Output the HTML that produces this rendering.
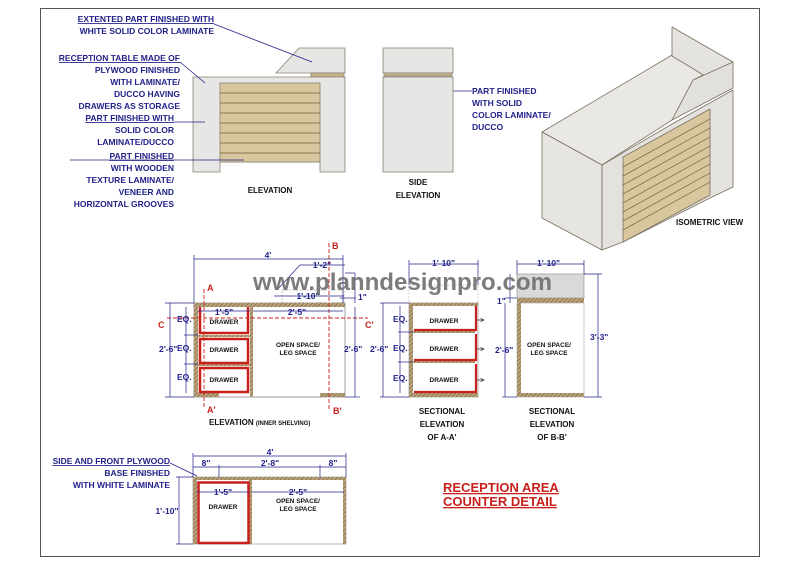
<!DOCTYPE html>
<html><head><meta charset="utf-8"><style>
html,body{margin:0;padding:0;background:#fff;}
svg{display:block;}
text{font-family:"Liberation Sans",Arial,sans-serif;font-weight:bold;}
.b{fill:#22228a;font-size:8.5px;}
.k{fill:#111;font-size:8px;}
.s{fill:#111;font-size:6.5px;}
.d{fill:#22228a;font-size:8.5px;}
.r{fill:#c8201c;font-size:9px;}
</style></head><body>
<svg width="800" height="566" viewBox="0 0 800 566" xmlns="http://www.w3.org/2000/svg">
<defs>
<pattern id="h" width="3" height="3" patternUnits="userSpaceOnUse" patternTransform="rotate(45)">
<rect width="3" height="3" fill="#b9a27a"/><line x1="0" y1="0" x2="0" y2="3" stroke="#6b5533" stroke-width="1"/></pattern>
<marker id="ar" markerWidth="6" markerHeight="6" refX="5" refY="3" orient="auto"><path d="M0,0.5 L5,3 L0,5.5" fill="none" stroke="#222" stroke-width="0.8"/></marker>
</defs>
<rect x="40.5" y="8.5" width="719" height="548" fill="none" stroke="#555" stroke-width="1"/>

<!-- ELEVATION top -->
<g stroke="#8a8070" stroke-width="0.8">
<polygon points="276,73 299,48 345,48 345,73" fill="#e6e6e4"/>
<rect x="311" y="73" width="33" height="4" fill="#c9b58a"/>
<polygon points="193,77 345,77 345,172 320,172 320,162 220,162 220,172 193,172" fill="#e6e6e4"/>
<rect x="220" y="83" width="100" height="79" fill="#d8c79e"/>
</g>
<g stroke="#6b5a3a" stroke-width="0.8">
<line x1="220" y1="93" x2="320" y2="93"/><line x1="220" y1="103" x2="320" y2="103"/><line x1="220" y1="113" x2="320" y2="113"/><line x1="220" y1="123" x2="320" y2="123"/><line x1="220" y1="133" x2="320" y2="133"/><line x1="220" y1="143" x2="320" y2="143"/><line x1="220" y1="153" x2="320" y2="153"/>
</g>
<text class="k" x="270" y="193" text-anchor="middle">ELEVATION</text>

<!-- labels -->
<g class="b" text-anchor="end">
<text x="214" y="22" text-decoration="underline">EXTENTED PART FINISHED WITH</text>
<text x="214" y="34">WHITE SOLID COLOR LAMINATE</text>
<text x="180" y="61" text-decoration="underline">RECEPTION TABLE MADE OF</text>
<text x="180" y="73">PLYWOOD FINISHED</text>
<text x="180" y="85">WITH LAMINATE/</text>
<text x="180" y="97">DUCCO HAVING</text>
<text x="180" y="109">DRAWERS AS STORAGE</text>
<text x="174" y="121" text-decoration="underline">PART FINISHED WITH</text>
<text x="174" y="133">SOLID COLOR</text>
<text x="174" y="145">LAMINATE/DUCCO</text>
<text x="174" y="159" text-decoration="underline">PART FINISHED</text>
<text x="174" y="171">WITH WOODEN</text>
<text x="174" y="183">TEXTURE LAMINATE/</text>
<text x="174" y="195">VENEER AND</text>
<text x="174" y="207">HORIZONTAL GROOVES</text>
</g>
<g stroke="#22228a" stroke-width="0.8" fill="none">
<polyline points="214,24 312,62"/><polyline points="180,62 205,83"/><polyline points="174,122 205,122"/><polyline points="70,160 244,160"/>
<line x1="442" y1="91" x2="472" y2="91"/>
</g>

<!-- side elevation -->
<g stroke="#8a8070" stroke-width="0.8">
<rect x="383" y="48" width="70" height="25" fill="#e6e6e4"/>
<rect x="384" y="73" width="68" height="3" fill="#c9b58a"/>
<rect x="383" y="77" width="70" height="95" fill="#e6e6e4"/>
</g>
<g class="b"><text x="472" y="94">PART FINISHED</text><text x="472" y="106">WITH SOLID</text><text x="472" y="118">COLOR LAMINATE/</text><text x="472" y="130">DUCCO</text></g>
<text class="k" x="418" y="185" text-anchor="middle">SIDE</text>
<text class="k" x="418" y="198" text-anchor="middle">ELEVATION</text>

<!-- isometric -->
<g stroke="#7a705e" stroke-width="0.8" stroke-linejoin="round">
<polygon points="542,132 672,55 705,74 693,80 672,120 602,165" fill="#e9e8e4"/>
<polygon points="672,27 733,62 705,76 672,56" fill="#e4e3df"/>
<polygon points="672,120 693,80 733,62 733,88" fill="#e1e0dc"/>
<polygon points="542,132 602,165 602,250 542,218" fill="#e6e5e1"/>
<polygon points="602,165 672,124 733,90 733,187 712,197 623,242 602,250" fill="#e3e2de"/>
<polygon points="623,157 710,109 710,195 623,242" fill="#d8c79e"/>
</g>
<g stroke="#6b5a3a" stroke-width="0.7">
<line x1="623" y1="167" x2="710" y2="119"/><line x1="623" y1="176" x2="710" y2="128"/><line x1="623" y1="185" x2="710" y2="137"/><line x1="623" y1="194" x2="710" y2="146"/><line x1="623" y1="203" x2="710" y2="155"/><line x1="623" y1="212" x2="710" y2="164"/><line x1="623" y1="221" x2="710" y2="173"/><line x1="623" y1="230" x2="710" y2="182"/>
</g>
<text class="k" x="676" y="225">ISOMETRIC VIEW</text>

<!-- ELEVATION inner shelving -->
<rect x="282" y="290" width="62" height="13" fill="none" stroke="#aaa" stroke-width="0.8" stroke-dasharray="2,1.5"/>
<rect x="194" y="303" width="151" height="94" fill="#fff" stroke="#888" stroke-width="0.8"/>
<rect x="194" y="303" width="151" height="4" fill="url(#h)"/>
<rect x="194" y="303" width="4" height="94" fill="url(#h)"/>
<rect x="250" y="307" width="3" height="90" fill="url(#h)"/>
<rect x="194" y="393" width="25" height="4" fill="url(#h)"/><rect x="320" y="393" width="25" height="4" fill="url(#h)"/>
<rect x="198" y="335" width="52" height="2" fill="url(#h)"/><rect x="198" y="364" width="52" height="2" fill="url(#h)"/>
<g fill="none" stroke="#c8201c" stroke-width="2.5">
<polyline points="200,307 200,333 248,333 248,307"/><rect x="200" y="339" width="48" height="24"/><rect x="200" y="368" width="48" height="24"/>
</g>
<g class="s" text-anchor="middle"><text x="224" y="324">DRAWER</text><text x="224" y="352">DRAWER</text><text x="224" y="382">DRAWER</text>
<text x="298" y="347">OPEN SPACE/</text><text x="298" y="355">LEG SPACE</text></g>
<g stroke="#c8201c" stroke-width="0.9" fill="none" stroke-dasharray="4,2">
<line x1="204" y1="289" x2="204" y2="408"/><line x1="329" y1="243" x2="329" y2="410"/><line x1="167" y1="318" x2="368" y2="318"/>
</g>
<g class="r"><text x="207" y="291">A</text><text x="207" y="413">A'</text><text x="332" y="249">B</text><text x="333" y="414">B'</text><text x="158" y="328">C</text><text x="365" y="328">C'</text></g>
<g stroke="#22228a" stroke-width="0.7" fill="none">
<line x1="194" y1="259" x2="343" y2="259"/><line x1="194" y1="255" x2="194" y2="303"/><line x1="343" y1="255" x2="343" y2="303"/>
<line x1="300" y1="265" x2="345" y2="265"/><line x1="300" y1="265" x2="277" y2="290"/>
<line x1="274" y1="296" x2="344" y2="296"/>
<line x1="345" y1="273" x2="355" y2="273"/><line x1="355" y1="273" x2="355" y2="303"/><line x1="340" y1="298" x2="356" y2="298"/>
<line x1="170" y1="303" x2="170" y2="397"/><line x1="165" y1="303" x2="194" y2="303"/><line x1="165" y1="397" x2="194" y2="397"/>
<line x1="186" y1="307" x2="186" y2="393"/><line x1="184" y1="335" x2="198" y2="335"/><line x1="184" y1="364" x2="198" y2="364"/>
<line x1="198" y1="311" x2="250" y2="311"/><line x1="253" y1="311" x2="343" y2="311"/>
<line x1="355" y1="307" x2="355" y2="397"/><line x1="345" y1="397" x2="360" y2="397"/>
</g>
<g class="d" text-anchor="middle"><text x="268" y="258">4'</text><text x="322" y="268">1'-2"</text><text x="308" y="299">1'-10"</text><text x="224" y="315">1'-5"</text><text x="297" y="315">2'-5"</text></g>
<g class="d"><text x="358" y="300">1"</text><text x="159" y="352">2'-6"</text><text x="344" y="352">2'-6"</text><text x="177" y="322">EQ.</text><text x="177" y="351">EQ.</text><text x="177" y="380">EQ.</text></g>
<text class="k" x="209" y="425">ELEVATION <tspan style="font-size:6px">(INNER SHELVING)</tspan></text>

<!-- section A-A' -->
<rect x="409" y="285" width="69" height="18" fill="none" stroke="#bbb" stroke-width="0.7" stroke-dasharray="2,1.5"/>
<rect x="409" y="303" width="69" height="94" fill="#fff" stroke="#888" stroke-width="0.6"/>
<rect x="409" y="303" width="69" height="3" fill="url(#h)"/><rect x="409" y="303" width="4" height="94" fill="url(#h)"/><rect x="409" y="393" width="69" height="4" fill="url(#h)"/>
<rect x="413" y="331" width="62" height="2" fill="url(#h)"/><rect x="413" y="361" width="62" height="2" fill="url(#h)"/>
<g fill="none" stroke="#c8201c" stroke-width="2.2"><polyline points="414,330 476,330 476,306"/><polyline points="414,360 476,360 476,334"/><polyline points="414,392 476,392 476,364"/></g>
<g class="s" text-anchor="middle"><text x="444" y="323">DRAWER</text><text x="444" y="351">DRAWER</text><text x="444" y="382">DRAWER</text></g>
<g stroke="#222" stroke-width="0.7"><line x1="477" y1="320" x2="484" y2="320" marker-end="url(#ar)"/><line x1="477" y1="349" x2="484" y2="349" marker-end="url(#ar)"/><line x1="477" y1="380" x2="484" y2="380" marker-end="url(#ar)"/></g>
<g stroke="#22228a" stroke-width="0.7" fill="none">
<line x1="409" y1="264" x2="478" y2="264"/><line x1="409" y1="260" x2="409" y2="285"/><line x1="478" y1="260" x2="478" y2="285"/>
<line x1="383" y1="303" x2="383" y2="397"/><line x1="380" y1="303" x2="409" y2="303"/><line x1="380" y1="397" x2="409" y2="397"/>
<line x1="400" y1="306" x2="400" y2="393"/><line x1="398" y1="332" x2="413" y2="332"/><line x1="398" y1="362" x2="413" y2="362"/>
</g>
<g class="d"><text x="432" y="266">1'-10"</text><text x="370" y="352">2'-6"</text><text x="393" y="322">EQ.</text><text x="393" y="351">EQ.</text><text x="393" y="381">EQ.</text></g>
<g class="k" text-anchor="middle"><text x="442" y="414">SECTIONAL</text><text x="442" y="427">ELEVATION</text><text x="442" y="440">OF A-A'</text></g>

<!-- section B-B' -->
<rect x="517" y="274" width="67" height="24" fill="#d9d9d9" stroke="#888" stroke-width="0.6"/>
<rect x="517" y="298" width="67" height="5" fill="url(#h)"/>
<rect x="517" y="303" width="67" height="94" fill="#fff" stroke="#aaa" stroke-width="0.6"/>
<rect x="517" y="303" width="4" height="94" fill="url(#h)"/><rect x="517" y="393" width="67" height="4" fill="url(#h)"/>
<g class="s" text-anchor="middle"><text x="549" y="347">OPEN SPACE/</text><text x="549" y="355">LEG SPACE</text></g>
<g stroke="#22228a" stroke-width="0.7" fill="none">
<line x1="517" y1="264" x2="584" y2="264"/><line x1="517" y1="260" x2="517" y2="274"/><line x1="584" y1="260" x2="584" y2="274"/>
<line x1="505" y1="303" x2="505" y2="397"/><line x1="502" y1="397" x2="517" y2="397"/>
<line x1="510" y1="274" x2="510" y2="303"/><line x1="505" y1="298" x2="517" y2="298"/>
<line x1="598" y1="274" x2="598" y2="397"/><line x1="584" y1="274" x2="602" y2="274"/><line x1="584" y1="397" x2="602" y2="397"/>
</g>
<g class="d"><text x="537" y="266">1'-10"</text><text x="497" y="304">1"</text><text x="495" y="353">2'-6"</text><text x="590" y="340">3'-3"</text></g>
<g class="k" text-anchor="middle"><text x="552" y="414">SECTIONAL</text><text x="552" y="427">ELEVATION</text><text x="552" y="440">OF B-B'</text></g>

<!-- plan -->
<rect x="193" y="477" width="153" height="67" fill="#fff" stroke="#999" stroke-width="0.7"/>
<rect x="193" y="477" width="153" height="3" fill="url(#h)"/><rect x="193" y="477" width="4" height="67" fill="url(#h)"/><rect x="249" y="480" width="3" height="64" fill="url(#h)"/><rect x="343" y="477" width="3" height="67" fill="url(#h)"/>
<rect x="198.5" y="482.5" width="50" height="60.5" fill="none" stroke="#c8201c" stroke-width="2.5"/>
<g class="s" text-anchor="middle"><text x="223" y="509">DRAWER</text><text x="298" y="503">OPEN SPACE/</text><text x="298" y="511">LEG SPACE</text></g>
<g stroke="#22228a" stroke-width="0.7" fill="none">
<line x1="193" y1="456" x2="346" y2="456"/><line x1="193" y1="453" x2="193" y2="477"/><line x1="346" y1="453" x2="346" y2="477"/>
<line x1="193" y1="467" x2="346" y2="467"/><line x1="219" y1="465" x2="219" y2="477"/><line x1="320" y1="465" x2="320" y2="477"/>
<line x1="197" y1="492" x2="249" y2="492"/><line x1="252" y1="492" x2="344" y2="492"/>
<line x1="179" y1="477" x2="179" y2="544"/><line x1="176" y1="544" x2="193" y2="544"/><line x1="176" y1="477" x2="193" y2="477"/>
<polyline points="170,463 197,476"/>
</g>
<g class="d" text-anchor="middle"><text x="270" y="455">4'</text><text x="206" y="466">8"</text><text x="270" y="466">2'-8"</text><text x="333" y="466">8"</text><text x="223" y="495">1'-5"</text><text x="298" y="495">2'-5"</text><text x="167" y="514">1'-10"</text></g>
<g class="b" text-anchor="end"><text x="170" y="464" text-decoration="underline">SIDE AND FRONT PLYWOOD</text><text x="170" y="476">BASE FINISHED</text><text x="170" y="488">WITH WHITE LAMINATE</text></g>

<g style="fill:#c8201c;font-size:13px" text-decoration="underline"><text x="443" y="492">RECEPTION AREA</text><text x="443" y="506">COUNTER DETAIL</text></g>

<!-- watermark on top -->
<text x="253" y="290" textLength="299" lengthAdjust="spacingAndGlyphs" style="font-size:24px;fill:#6e6e6e;opacity:0.9">www.planndesignpro.com</text>
</svg>
</body></html>
